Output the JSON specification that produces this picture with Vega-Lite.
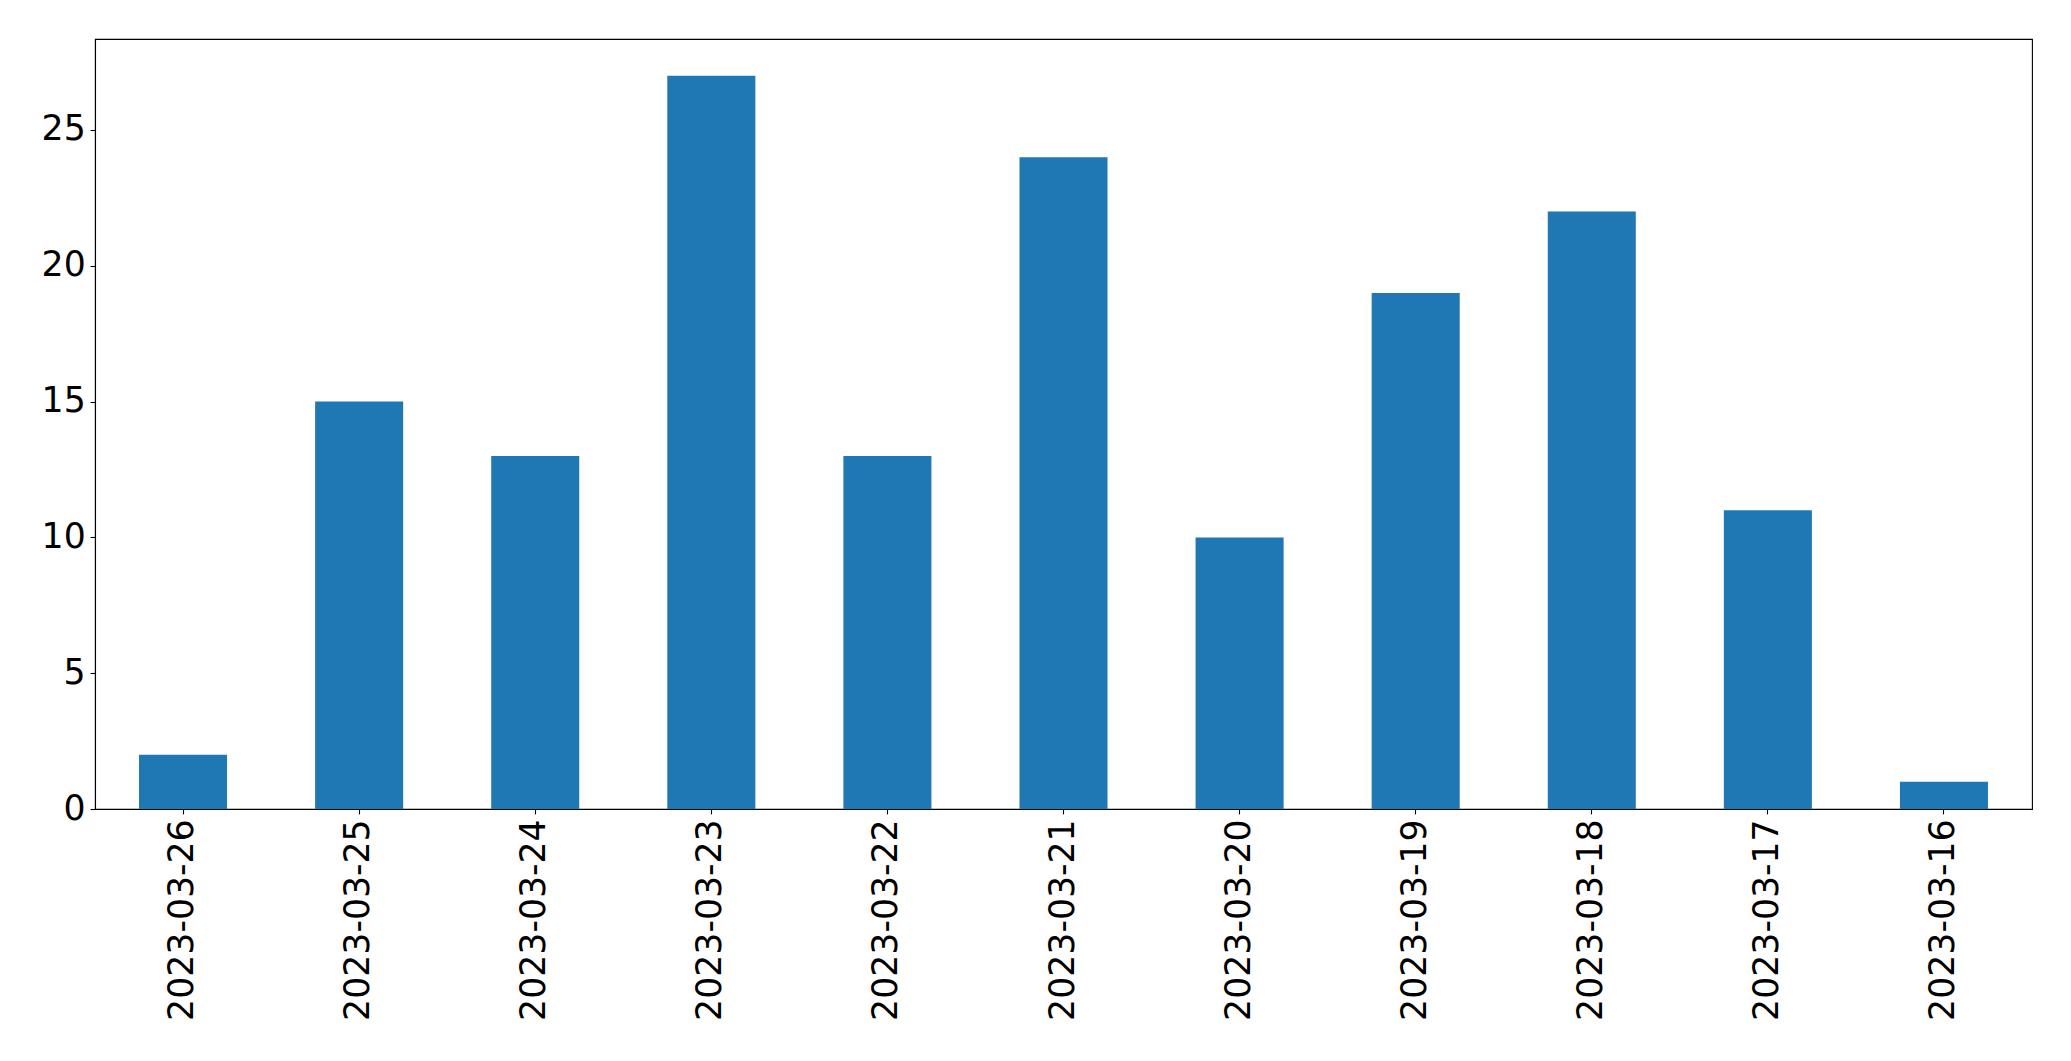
{
  "$schema": "https://vega.github.io/schema/vega-lite/v6.json",
  "width": 1937,
  "height": 770,
  "autosize": {"type": "none"},
  "padding": {"left": 95, "top": 39, "right": 39, "bottom": 252},
  "background": "white",
  "config": {
    "view": {"stroke": "black", "strokeWidth": 1.1},
    "font": "DejaVu Sans",
    "axis": {
      "labelFont": "DejaVu Sans",
      "labelFontSize": 34.7,
      "labelColor": "black",
      "labelLimit": 0,
      "domainColor": "black",
      "domainWidth": 1.1,
      "tickColor": "black",
      "tickWidth": 1.1,
      "tickSize": 4.9,
      "labelPadding": 4.9,
      "grid": false,
      "title": null
    }
  },
  "data": {
    "values": [
      {"date": "2023-03-26", "count": 2},
      {"date": "2023-03-25", "count": 15},
      {"date": "2023-03-24", "count": 13},
      {"date": "2023-03-23", "count": 27},
      {"date": "2023-03-22", "count": 13},
      {"date": "2023-03-21", "count": 24},
      {"date": "2023-03-20", "count": 10},
      {"date": "2023-03-19", "count": 19},
      {"date": "2023-03-18", "count": 22},
      {"date": "2023-03-17", "count": 11},
      {"date": "2023-03-16", "count": 1}
    ]
  },
  "mark": {"type": "bar", "color": "#1f77b4"},
  "encoding": {
    "x": {
      "field": "date",
      "type": "nominal",
      "sort": null,
      "scale": {"paddingInner": 0.5, "paddingOuter": 0.25},
      "axis": {"labelAngle": -90, "title": null}
    },
    "y": {
      "field": "count",
      "type": "quantitative",
      "scale": {"domain": [0, 28.35], "nice": false, "zero": true},
      "axis": {"values": [0, 5, 10, 15, 20, 25], "title": null}
    }
  }
}
